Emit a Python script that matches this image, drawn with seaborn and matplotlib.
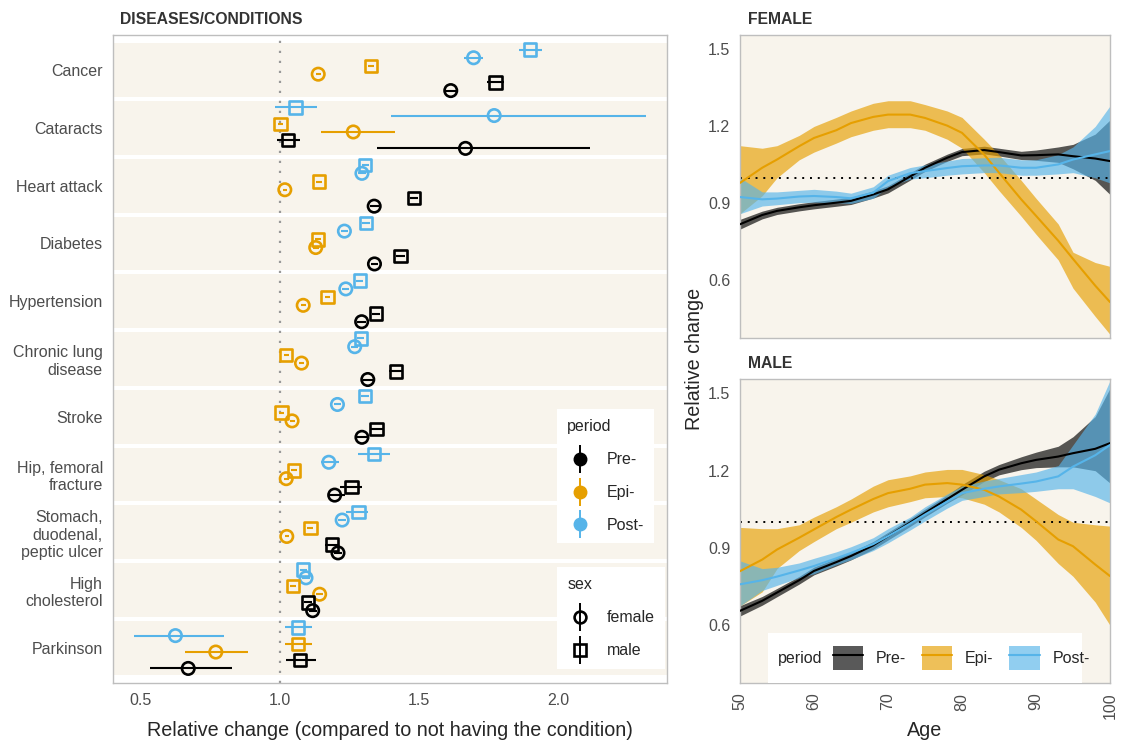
import pandas as pd
import seaborn as sns
import matplotlib.pyplot as plt
from matplotlib.lines import Line2D
from matplotlib.patches import Patch, Rectangle
from matplotlib.legend_handler import HandlerTuple

# --- Data: left panel (relative change by condition) ---
conditions = ["Cancer", "Cataracts", "Heart attack", "Diabetes", "Hypertension",
              "Chronic lung\ndisease", "Stroke", "Hip, femoral\nfracture",
              "Stomach,\nduodenal,\npeptic ulcer", "High\ncholesterol", "Parkinson"]
periods = ["Pre-", "Epi-", "Post-"]
sexes = ["female", "male"]

pre_female = [1.615, 1.668, 1.340, 1.341, 1.295, 1.317, 1.296, 1.198, 1.210, 1.119, 0.672]
pre_female_lo = [1.595, 1.349, 1.325, 1.328, 1.280, 1.300, 1.276, 1.175, 1.195, 1.105, 0.533]
pre_female_hi = [1.637, 2.116, 1.356, 1.355, 1.310, 1.335, 1.317, 1.234, 1.226, 1.133, 0.828]

pre_male = [1.776, 1.030, 1.483, 1.435, 1.347, 1.418, 1.349, 1.258, 1.188, 1.102, 1.074]
pre_male_lo = [1.745, 0.992, 1.468, 1.420, 1.333, 1.393, 1.325, 1.217, 1.162, 1.088, 1.022]
pre_male_hi = [1.808, 1.075, 1.498, 1.451, 1.362, 1.445, 1.373, 1.296, 1.212, 1.117, 1.130]

epi_female = [1.139, 1.265, 1.019, 1.130, 1.085, 1.079, 1.045, 1.024, 1.026, 1.144, 0.771]
epi_female_lo = [1.130, 1.148, 1.012, 1.120, 1.076, 1.070, 1.036, 1.015, 1.018, 1.132, 0.661]
epi_female_hi = [1.148, 1.413, 1.026, 1.140, 1.094, 1.088, 1.054, 1.033, 1.034, 1.156, 0.886]

epi_male = [1.328, 1.004, 1.142, 1.139, 1.173, 1.024, 1.007, 1.052, 1.111, 1.048, 1.067]
epi_male_lo = [1.318, 0.996, 1.132, 1.129, 1.163, 1.015, 0.998, 1.042, 1.100, 1.038, 1.020]
epi_male_hi = [1.338, 1.012, 1.152, 1.149, 1.183, 1.033, 1.016, 1.062, 1.122, 1.058, 1.118]

post_female = [1.697, 1.771, 1.296, 1.233, 1.238, 1.270, 1.208, 1.177, 1.225, 1.095, 0.626]
post_female_lo = [1.664, 1.400, 1.283, 1.220, 1.226, 1.258, 1.195, 1.150, 1.210, 1.082, 0.476]
post_female_hi = [1.731, 2.315, 1.309, 1.246, 1.250, 1.282, 1.221, 1.214, 1.240, 1.108, 0.800]

post_male = [1.900, 1.058, 1.308, 1.311, 1.288, 1.292, 1.307, 1.340, 1.283, 1.085, 1.067]
post_male_lo = [1.860, 0.985, 1.295, 1.298, 1.276, 1.280, 1.294, 1.283, 1.240, 1.072, 1.020]
post_male_hi = [1.942, 1.135, 1.321, 1.324, 1.300, 1.304, 1.320, 1.396, 1.317, 1.098, 1.118]

# --- Data: right panels (relative change by age) ---
ages = [50, 53, 55, 58, 60, 63, 65, 68, 70, 73, 75, 78, 80, 83, 85, 88, 90, 93, 95, 98, 100]

f_pre = [0.819, 0.855, 0.871, 0.885, 0.893, 0.903, 0.910, 0.935, 0.955, 1.005, 1.039,
         1.078, 1.100, 1.108, 1.100, 1.087, 1.088, 1.091, 1.084, 1.075, 1.065]
f_pre_lo = [0.800, 0.840, 0.857, 0.871, 0.879, 0.889, 0.896, 0.921, 0.941, 0.991, 1.025,
            1.064, 1.086, 1.093, 1.085, 1.071, 1.068, 1.060, 1.035, 0.990, 0.935]
f_pre_hi = [0.838, 0.870, 0.885, 0.899, 0.907, 0.917, 0.924, 0.949, 0.969, 1.019, 1.053,
            1.092, 1.114, 1.123, 1.115, 1.103, 1.108, 1.120, 1.130, 1.170, 1.225]

f_epi = [0.980, 1.039, 1.071, 1.123, 1.155, 1.185, 1.213, 1.237, 1.246, 1.246, 1.233,
         1.203, 1.175, 1.090, 1.020, 0.916, 0.852, 0.755, 0.684, 0.580, 0.516]
f_epi_lo = [0.860, 0.930, 1.000, 1.070, 1.100, 1.135, 1.160, 1.185, 1.195, 1.195, 1.185,
            1.150, 1.115, 1.020, 0.950, 0.850, 0.780, 0.680, 0.570, 0.460, 0.390]
f_epi_hi = [1.125, 1.115, 1.125, 1.165, 1.200, 1.235, 1.260, 1.290, 1.300, 1.300, 1.285,
            1.260, 1.235, 1.150, 1.090, 0.990, 0.920, 0.820, 0.710, 0.670, 0.655]

f_post = [0.925, 0.916, 0.919, 0.927, 0.929, 0.925, 0.920, 0.942, 0.987, 1.018, 1.026,
          1.038, 1.045, 1.048, 1.048, 1.039, 1.039, 1.052, 1.071, 1.091, 1.104]
f_post_lo = [0.860, 0.890, 0.895, 0.903, 0.905, 0.903, 0.900, 0.920, 0.965, 0.995, 1.000,
             1.010, 1.015, 1.020, 1.020, 1.010, 1.010, 1.015, 1.020, 1.000, 0.980]
f_post_hi = [1.000, 0.945, 0.945, 0.951, 0.955, 0.948, 0.940, 0.965, 1.010, 1.040, 1.050,
             1.065, 1.075, 1.078, 1.080, 1.070, 1.070, 1.090, 1.120, 1.200, 1.280]

m_pre = [0.656, 0.695, 0.727, 0.775, 0.811, 0.845, 0.869, 0.910, 0.946, 0.999, 1.036,
         1.090, 1.126, 1.178, 1.204, 1.229, 1.242, 1.255, 1.268, 1.285, 1.307]
m_pre_lo = [0.636, 0.678, 0.711, 0.760, 0.796, 0.830, 0.854, 0.895, 0.931, 0.984, 1.021,
            1.074, 1.106, 1.158, 1.184, 1.204, 1.212, 1.215, 1.215, 1.200, 1.152]
m_pre_hi = [0.676, 0.712, 0.743, 0.790, 0.826, 0.860, 0.884, 0.925, 0.961, 1.014, 1.051,
            1.106, 1.146, 1.198, 1.224, 1.254, 1.272, 1.295, 1.332, 1.410, 1.520]

m_epi = [0.810, 0.855, 0.894, 0.940, 0.972, 1.020, 1.049, 1.090, 1.113, 1.130, 1.146,
         1.152, 1.146, 1.126, 1.100, 1.049, 1.004, 0.933, 0.907, 0.836, 0.791]
m_epi_lo = [0.675, 0.730, 0.820, 0.890, 0.925, 0.975, 1.000, 1.040, 1.060, 1.080, 1.095,
            1.100, 1.095, 1.070, 1.040, 0.980, 0.930, 0.840, 0.790, 0.690, 0.600]
m_epi_hi = [0.980, 0.975, 0.975, 0.990, 1.020, 1.060, 1.090, 1.140, 1.165, 1.180, 1.195,
            1.205, 1.205, 1.185, 1.165, 1.130, 1.090, 1.030, 1.000, 0.990, 0.985]

m_post = [0.759, 0.775, 0.789, 0.813, 0.830, 0.860, 0.881, 0.915, 0.946, 0.995, 1.030,
          1.080, 1.113, 1.130, 1.139, 1.150, 1.158, 1.178, 1.216, 1.260, 1.300]
m_post_lo = [0.675, 0.735, 0.755, 0.785, 0.800, 0.835, 0.855, 0.890, 0.920, 0.970, 1.005,
             1.055, 1.085, 1.100, 1.110, 1.115, 1.120, 1.130, 1.130, 1.100, 1.075]
m_post_hi = [0.850, 0.820, 0.825, 0.842, 0.860, 0.885, 0.905, 0.940, 0.975, 1.020, 1.060,
             1.110, 1.140, 1.160, 1.170, 1.185, 1.195, 1.220, 1.300, 1.420, 1.550]

colors = {"Pre-": "#000000", "Epi-": "#E69F00", "Post-": "#56B4E9"}
beige = "#F8F4EC"
tick_grey = "#4D4D4D"
frame_grey = "#BEBEBE"

# --- long tables ---
left_series = {
    ("Pre-", "female"): (pre_female, pre_female_lo, pre_female_hi),
    ("Pre-", "male"): (pre_male, pre_male_lo, pre_male_hi),
    ("Epi-", "female"): (epi_female, epi_female_lo, epi_female_hi),
    ("Epi-", "male"): (epi_male, epi_male_lo, epi_male_hi),
    ("Post-", "female"): (post_female, post_female_lo, post_female_hi),
    ("Post-", "male"): (post_male, post_male_lo, post_male_hi),
}
# dodge order, top to bottom within each condition
dodge_order = [("Post-", "male"), ("Post-", "female"), ("Epi-", "male"),
               ("Epi-", "female"), ("Pre-", "male"), ("Pre-", "female")]
dodge_step = 0.142

rows = []
for k, key in enumerate(dodge_order):
    est, lo, hi = left_series[key]
    for i, cond in enumerate(conditions):
        rows.append({"condition": cond, "period": key[0], "sex": key[1],
                     "ypos": i + (k - 2.5) * dodge_step,
                     "est": est[i], "lo": lo[i], "hi": hi[i]})
pts = pd.DataFrame(rows)

right_series = {
    "female": {"Pre-": (f_pre, f_pre_lo, f_pre_hi), "Epi-": (f_epi, f_epi_lo, f_epi_hi),
               "Post-": (f_post, f_post_lo, f_post_hi)},
    "male": {"Pre-": (m_pre, m_pre_lo, m_pre_hi), "Epi-": (m_epi, m_epi_lo, m_epi_hi),
             "Post-": (m_post, m_post_lo, m_post_hi)},
}

# --- Style ---
sns.set_style("white")
plt.rcParams["font.family"] = ["Liberation Sans", "DejaVu Sans"]
plt.rcParams["font.size"] = 11.5

fig = plt.figure(figsize=(11.23, 7.40), dpi=100)
W, H = 1123, 740


def px_axes(x0, y0, x1, y1):
    return fig.add_axes([x0 / W, 1 - y1 / H, (x1 - x0) / W, (y1 - y0) / H])


def style_frame(ax):
    for s in ax.spines.values():
        s.set_color(frame_grey)
        s.set_linewidth(1.0)
    ax.tick_params(colors=tick_grey, labelsize=11.5, length=3.5, width=0.8,
                   labelcolor=tick_grey)
    ax.tick_params(color=frame_grey)


# --- Left panel ---
axl = px_axes(112.5, 35, 666.5, 683)
axl.set_facecolor("white")
for i in range(len(conditions)):
    axl.axhspan(i - 0.465, i + 0.465, color=beige, lw=0, zorder=0)
axl.axvline(1.0, color="#999999", ls=(0, (1, 3.5)), lw=1.6, zorder=1)

for key in dodge_order:
    d = pts[(pts["period"] == key[0]) & (pts["sex"] == key[1])]
    axl.hlines(d["ypos"], d["lo"], d["hi"], colors=colors[key[0]], lw=1.5, zorder=2)

sns.scatterplot(data=pts, x="est", y="ypos", hue="period", style="sex",
                palette=colors, markers={"female": "o", "male": "s"},
                s=80, ax=axl, legend=False, zorder=3)
coll = axl.collections[-1]
coll.set_edgecolors(coll.get_facecolors())
coll.set_facecolors("none")
coll.set_linewidths(1.9)

axl.set_xlim(0.4, 2.39)
axl.set_ylim(len(conditions) - 1 + 0.607, -0.607)
axl.set_yticks(range(len(conditions)))
axl.set_yticklabels(conditions, linespacing=1.2)
axl.set_xticks([0.5, 1.0, 1.5, 2.0])
axl.set_xticklabels(["0.5", "1.0", "1.5", "2.0"])
axl.set_xlabel("")
axl.set_ylabel("")
style_frame(axl)

# left legends
vbar = lambda c: Line2D([], [], color=c, marker="|", ms=20, mew=1.4, ls="none")
period_handles = [(vbar(colors[p]), Line2D([], [], color=colors[p], marker="o", ms=9, ls="none"))
                  for p in periods]
sex_handles = [(vbar("black"), Line2D([], [], color="black", marker=m, ms=8.5, mfc="none",
                                     mew=1.9, ls="none")) for m in ["o", "s"]]
leg_kw = dict(handler_map={tuple: HandlerTuple(ndivide=1)}, frameon=True,
              facecolor="white", edgecolor="none", fancybox=False, framealpha=1,
              alignment="left", fontsize=11.5, title_fontsize=11.5, labelspacing=1.12,
              handletextpad=0.85, borderpad=0.65, handlelength=1.6,
              loc="upper left", bbox_transform=fig.transFigure, borderaxespad=0)
leg1 = axl.legend(period_handles, periods, title="period",
                  bbox_to_anchor=(557 / W, 1 - 409 / H), **leg_kw)
axl.add_artist(leg1)
leg2 = axl.legend(sex_handles, sexes, title="sex",
                  bbox_to_anchor=(557 / W, 1 - 567 / H), **leg_kw)

# --- Right panels ---
ax_f = px_axes(740, 35, 1110, 338)
ax_m = px_axes(740, 379, 1110, 683)

for ax, sex in [(ax_f, "female"), (ax_m, "male")]:
    ax.set_facecolor(beige)
    frames = []
    for p in periods:
        est, lo, hi = right_series[sex][p]
        ax.fill_between(ages, lo, hi, color=colors[p], alpha=0.65, lw=0, zorder=1)
        frames.append(pd.DataFrame({"age": ages, "value": est, "period": p}))
    ax.axhline(1.0, color="black", ls=(0, (1, 3)), lw=1.4, zorder=2)
    sns.lineplot(data=pd.concat(frames), x="age", y="value", hue="period",
                 hue_order=periods, palette=colors, ax=ax, legend=False,
                 lw=1.5, errorbar=None, zorder=3)
    ax.set_xlim(50, 100)
    ax.set_ylim(0.376, 1.556)
    ax.set_yticks([0.6, 0.9, 1.2, 1.5])
    ax.set_yticklabels(["0.6", "0.9", "1.2", "1.5"])
    ax.set_xticks([50, 60, 70, 80, 90, 100])
    ax.set_xlabel("")
    ax.set_ylabel("")
    style_frame(ax)

ax_f.tick_params(axis="x", bottom=False, labelbottom=False)
ax_m.tick_params(axis="x", labelrotation=90)

# right legend (horizontal, inside male panel)
ax_m.add_patch(Rectangle((0.076, 0.0), 0.848, 0.164, transform=ax_m.transAxes,
                         facecolor="white", edgecolor="none", zorder=4))
ax_m.text(0.103, 0.082, "period", transform=ax_m.transAxes, ha="left", va="center",
          fontsize=11.5, zorder=5)
band_handles = [(Patch(facecolor=colors[p], alpha=0.65, lw=0), Line2D([], [], color=colors[p], lw=1.5))
                for p in periods]
leg3 = ax_m.legend(band_handles, periods, handler_map={tuple: HandlerTuple(ndivide=1)},
                   loc="center left", bbox_to_anchor=(0.25, 0.082), ncol=3, frameon=False,
                   fontsize=11.5, handlelength=1.9, handleheight=1.9, handletextpad=0.8,
                   columnspacing=1.0, borderaxespad=0, borderpad=0)
leg3.set_zorder(6)

# --- Titles and axis labels ---
fig.text(120 / W, 1 - 19 / H, "DISEASES/CONDITIONS", fontsize=11.3, fontweight="bold",
         color="#333333", ha="left", va="center")
fig.text(748 / W, 1 - 19 / H, "FEMALE", fontsize=11.3, fontweight="bold",
         color="#333333", ha="left", va="center")
fig.text(748 / W, 1 - 363 / H, "MALE", fontsize=11.3, fontweight="bold",
         color="#333333", ha="left", va="center")
fig.text(389.5 / W, 1 - 730 / H, "Relative change (compared to not having the condition)",
         fontsize=14.2, ha="center", va="center")
fig.text(925 / W, 1 - 730 / H, "Age", fontsize=14.2, ha="center", va="center")
fig.text(694 / W, 1 - 359 / H, "Relative change", fontsize=14.2, rotation=90,
         ha="center", va="center")

plt.savefig("out.png", dpi=100)
